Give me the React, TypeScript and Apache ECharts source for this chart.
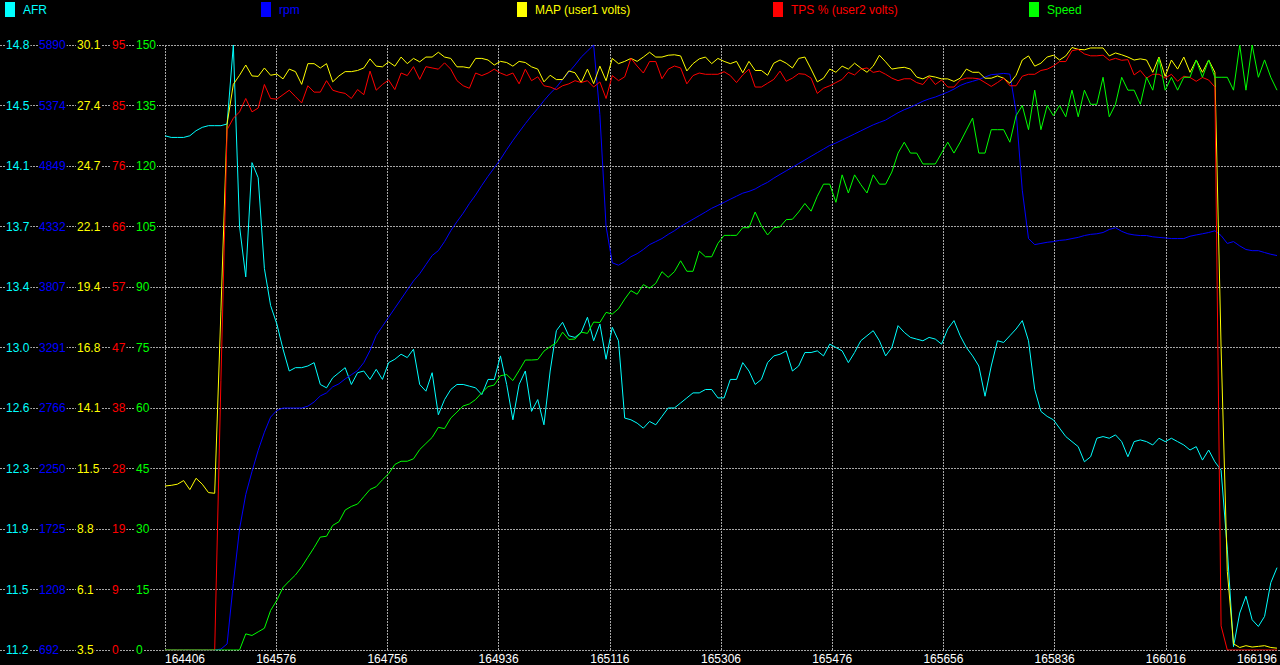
import React, { useEffect, useRef } from "react";
import * as echarts from "echarts";

// ---- tick labels ----
const xTickLabels = ["164406", "164576", "164756", "164936", "165116", "165306", "165476", "165656", "165836", "166016", "166196"];
const afrTicks = ["11.2", "11.5", "11.9", "12.3", "12.6", "13.0", "13.4", "13.7", "14.1", "14.5", "14.8"];
const rpmTicks = ["692", "1208", "1725", "2250", "2766", "3291", "3807", "4332", "4849", "5374", "5890"];
const mapTicks = ["3.5", "6.1", "8.8", "11.5", "14.1", "16.8", "19.4", "22.1", "24.7", "27.4", "30.1"];
const tpsTicks = ["0", "9", "19", "28", "38", "47", "57", "66", "76", "85", "95"];
const speedTicks = ["0", "15", "30", "45", "60", "75", "90", "105", "120", "135", "150"];

// ---- series values (one sample per log row) ----
const afr = [
  14.26, 14.25, 14.25, 14.25, 14.26, 14.29, 14.31, 14.32, 14.32, 14.32,
  14.33, 14.8, 13.72, 13.42, 14.1, 14.01, 13.47, 13.25, 13.14, 12.99,
  12.86, 12.88, 12.88, 12.89, 12.91, 12.78, 12.76, 12.82, 12.85, 12.88,
  12.78, 12.85, 12.86, 12.81, 12.87, 12.81, 12.91, 12.93, 12.96, 12.94,
  12.99, 12.78, 12.74, 12.85, 12.6, 12.69, 12.75, 12.78, 12.78, 12.77,
  12.76, 12.72, 12.81, 12.81, 12.95, 12.78, 12.57, 12.78, 12.86, 12.62,
  12.69, 12.54, 12.86, 13.1, 13.15, 13.07, 13.06, 13.09, 13.18, 13.04,
  13.14, 12.93, 13.12, 13.04, 12.58, 12.57, 12.55, 12.52, 12.56, 12.54,
  12.59, 12.64, 12.64, 12.67, 12.7, 12.73, 12.73, 12.75, 12.75, 12.7,
  12.7, 12.81, 12.81, 12.91, 12.86, 12.78, 12.81, 12.91, 12.95, 12.96,
  12.98, 12.86, 12.89, 12.97, 12.97, 12.98, 12.95, 13.02, 13.0, 12.98,
  12.91, 12.97, 13.04, 13.07, 13.1, 13.04, 12.95, 13.0, 13.13, 13.09,
  13.06, 13.05, 13.04, 13.06, 13.05, 13.02, 13.11, 13.16, 13.07, 13.0,
  12.95, 12.89, 12.71, 12.89, 13.04, 13.03, 13.07, 13.11, 13.16, 13.04,
  12.75, 12.62, 12.59, 12.57, 12.52, 12.47, 12.44, 12.41, 12.32, 12.35,
  12.46, 12.47, 12.46, 12.48, 12.44, 12.35, 12.44, 12.45, 12.44, 12.42,
  12.46, 12.44, 12.46, 12.44, 12.42, 12.39, 12.41, 12.33, 12.39, 12.32,
  12.27, 11.8, 11.22, 11.42, 11.52, 11.38, 11.34, 11.4, 11.6, 11.69,
];

const rpm = [
  692, 692, 692, 692, 692, 692, 692, 692, 692, 700,
  744, 1264, 1732, 2028, 2225, 2407, 2563, 2693, 2750, 2771,
  2771, 2771, 2771, 2787, 2823, 2875, 2901, 2953, 2979, 3021,
  3057, 3093, 3161, 3265, 3395, 3473, 3551, 3629, 3707, 3785,
  3863, 3925, 4003, 4081, 4123, 4201, 4294, 4372, 4445, 4528,
  4601, 4684, 4762, 4835, 4908, 4991, 5069, 5142, 5214, 5282,
  5344, 5412, 5474, 5526, 5594, 5656, 5718, 5786, 5838, 5890,
  5292, 4331, 4019, 3998, 4029, 4071, 4097, 4133, 4175, 4201,
  4227, 4263, 4294, 4331, 4362, 4393, 4424, 4455, 4487, 4512,
  4538, 4565, 4591, 4617, 4632, 4653, 4684, 4710, 4746, 4778,
  4809, 4840, 4871, 4902, 4934, 4965, 4996, 5027, 5048, 5074,
  5100, 5126, 5152, 5178, 5204, 5225, 5245, 5277, 5308, 5334,
  5355, 5381, 5407, 5427, 5443, 5464, 5485, 5511, 5542, 5563,
  5578, 5594, 5615, 5635, 5640, 5646, 5640, 5318, 4642, 4227,
  4175, 4185, 4195, 4201, 4211, 4216, 4227, 4237, 4253, 4263,
  4268, 4279, 4305, 4320, 4289, 4268, 4258, 4253, 4253, 4242,
  4237, 4232, 4227, 4227, 4227, 4247, 4258, 4268, 4279, 4294,
  4253, 4185, 4201, 4164, 4133, 4123, 4123, 4107, 4092, 4081,
];

const mapVolts = [
  10.71, 10.74, 10.79, 10.95, 10.55, 11.05, 10.79, 10.42, 10.39, 18.4,
  26.64, 28.37, 28.77, 29.22, 28.74, 28.72, 29.09, 28.77, 28.82, 28.61,
  29.04, 28.93, 28.37, 29.28, 29.28, 29.09, 29.28, 28.48, 28.74, 28.93,
  28.93, 28.98, 29.09, 29.49, 29.17, 29.14, 29.36, 29.17, 29.57, 29.28,
  29.51, 29.36, 29.57, 29.57, 29.78, 29.57, 29.51, 29.14, 29.14, 29.09,
  29.51, 29.51, 29.44, 29.22, 29.38, 29.33, 29.17, 29.38, 29.33, 29.14,
  29.04, 28.48, 28.77, 28.58, 28.58, 28.96, 28.88, 28.45, 29.04, 28.4,
  29.17, 28.53, 29.51, 29.28, 29.38, 29.51, 29.38, 29.57, 29.78, 29.57,
  29.57, 29.65, 29.67, 29.62, 28.96, 29.28, 29.49, 29.57, 29.28, 29.51,
  29.38, 29.28, 29.38, 28.88, 29.38, 28.98, 28.98, 28.77, 29.3, 29.44,
  29.3, 29.09, 29.51, 29.57, 29.04, 28.48, 28.64, 29.04, 28.9, 29.17,
  29.04, 29.3, 29.09, 28.9, 29.17, 29.65, 29.36, 29.04, 29.09, 29.12,
  29.04, 28.69, 28.61, 28.74, 28.69, 28.61, 28.61, 28.5, 28.64, 29.04,
  28.9, 28.9, 28.64, 28.64, 28.74, 28.64, 28.42, 28.77, 29.44, 29.62,
  29.17, 29.3, 29.57, 29.65, 29.44, 29.62, 29.99, 29.91, 29.89, 29.97,
  29.97, 29.97, 29.62, 29.75, 29.67, 29.57, 29.44, 29.49, 29.44, 28.9,
  29.57, 28.72, 29.44, 29.04, 29.57, 28.9, 29.44, 28.9, 29.44, 28.9,
  16.8, 6.96, 3.77, 3.61, 3.69, 3.63, 3.66, 3.69, 3.61, 3.58,
];

const tps = [
  0, 0, 0, 0, 0, 0, 0, 0, 0, 42.3,
  81.7, 83.5, 84.5, 86.6, 84.5, 85.1, 88.8, 86.6, 86.5, 87.2,
  87.9, 86.9, 85.9, 88.6, 87.6, 87.6, 89.4, 87.9, 87.6, 87.4,
  86.6, 88.0, 87.2, 90.9, 87.9, 88.8, 89.5, 88.0, 90.6, 90.2,
  91.6, 89.6, 91.6, 91.4, 91.2, 92.2, 91.2, 89.4, 88.6, 88.2,
  90.6, 90.2, 90.6, 91.2, 90.6, 90.2, 90.6, 88.9, 91.2, 89.4,
  90.0, 88.6, 88.4, 88.0, 88.6, 88.9, 89.4, 89.1, 89.4, 88.4,
  89.2, 86.6, 90.2, 89.4, 90.0, 92.9, 91.7, 90.6, 92.4, 92.4,
  89.7, 91.2, 91.7, 91.4, 88.9, 90.2, 90.6, 90.4, 90.4, 90.4,
  90.8, 90.2, 89.1, 90.3, 91.2, 88.4, 88.4, 89.0, 89.6, 90.9,
  89.3, 89.8, 90.5, 90.4, 89.8, 87.4, 88.2, 88.6, 89.1, 89.6,
  90.7, 90.3, 91.2, 91.4, 90.7, 90.9, 90.4, 89.8, 89.4, 89.7,
  89.7, 89.1, 88.8, 90.0, 88.8, 89.5, 88.4, 88.4, 89.5, 89.8,
  89.8, 89.7, 89.1, 88.5, 89.1, 89.8, 88.6, 88.6, 90.1, 90.4,
  90.4, 91.0, 91.2, 91.7, 92.4, 92.4, 94.1, 94.3, 93.6, 93.3,
  93.3, 93.4, 92.6, 92.9, 92.6, 92.7, 90.3, 91.0, 89.8, 90.4,
  90.4, 89.8, 90.4, 89.3, 90.1, 89.9, 89.3, 89.9, 89.5, 88.4,
  3.8, 0, 0, 0, 0, 0, 0, 0, 0, 0,
];

const speed = [
  0, 0, 0, 0, 0, 0, 0, 0, 0, 0,
  0, 0, 0, 4, 3.6, 4.5, 5.4, 9.8, 12.3, 15.5,
  17.1, 18.6, 20.6, 23, 25.4, 28, 28.2, 30.9, 31.8, 34.7,
  35.6, 36.2, 38, 39.8, 40.5, 42.2, 43.7, 46, 46.8, 46.8,
  47.4, 49.7, 51.2, 52.7, 55.2, 54.9, 57.5, 59, 60.5, 61,
  62.1, 63.8, 65.3, 65.7, 68, 68.3, 66.8, 69.3, 71.9, 71.9,
  72, 74.1, 75.2, 76.2, 78.8, 77, 77.1, 78.8, 78.5, 81.3,
  81.2, 83.7, 83.3, 84.6, 87, 89.1, 88.2, 90.6, 89.7, 90.9,
  93.8, 92.4, 93.8, 96.5, 93.9, 93.9, 98.9, 97.5, 97.5, 100.8,
  102.8, 102.8, 102.8, 104.7, 104.7, 108.6, 105.2, 102.9, 104.7, 104.9,
  106.7, 106.8, 108.6, 110.7, 108.8, 112.5, 115.5, 115.5, 111, 117.8,
  113.3, 117.8, 115.4, 113.3, 117.8, 115.5, 115.5, 118.5, 123.2, 125.9,
  123.2, 123.2, 120.5, 120.5, 120.5, 123.2, 125.9, 123.2, 125.9, 128.9,
  131.9, 123.2, 123.2, 129, 129, 129, 125.9, 132.5, 135, 129,
  138.8, 129, 135, 132.5, 135, 132.2, 138.8, 132.2, 138.8, 135.3,
  135.3, 142, 132.2, 135.3, 142, 138.8, 138.8, 135.3, 142, 138.8,
  146.7, 138.8, 142, 138.8, 142, 142, 146.3, 142, 146.3, 142,
  142, 142, 138.8, 150, 138.8, 150, 142, 146.3, 142, 138.8,
];

const FONT = "'Liberation Sans', Arial, sans-serif";
const GRID_COLOR = "#a6a6a6";

type AxisCfg = { name: string; min: number; max: number; ticks: string[]; color: string; margin: number; data: number[] };

const axes: AxisCfg[] = [
  { name: "AFR", min: 11.2, max: 14.8, ticks: afrTicks, color: "#00ffff", margin: 160, data: afr },
  { name: "rpm", min: 692, max: 5890, ticks: rpmTicks, color: "#0000ff", margin: 127, data: rpm },
  { name: "MAP (user1 volts)", min: 3.5, max: 30.1, ticks: mapTicks, color: "#ffff00", margin: 89, data: mapVolts },
  { name: "TPS % (user2 volts)", min: 0, max: 95, ticks: tpsTicks, color: "#ff0000", margin: 54, data: tps },
  { name: "Speed", min: 0, max: 150, ticks: speedTicks, color: "#00ff00", margin: 30, data: speed },
];

const legendLefts = [5, 261, 517, 773, 1029];

const X_MAX = afr.length - 1;
const X_STEP = X_MAX / 10;

function buildOption() {
  const yAxes: any[] = axes.map((a) => {
    const step = (a.max - a.min) / 10;
    const custom = a.ticks.map((_, k) => Math.min(a.max, Number((a.min + k * step).toFixed(6))));
    return {
      type: "value",
      gridIndex: 0,
      position: "left",
      min: a.min,
      max: a.max,
      z: 5,
      axisLine: { show: false },
      axisTick: { show: false },
      splitLine: { show: false },
      axisLabel: {
        customValues: custom,
        formatter: (v: number) => a.ticks[Math.round((v - a.min) / step)] ?? "",
        align: "left",
        margin: a.margin,
        color: a.color,
        fontSize: 12,
        fontFamily: FONT,
        backgroundColor: "#000",
        padding: [1, 1, 1, 1],
      },
    };
  });
  // background full-width grid for horizontal dashed lines
  yAxes.push({
    type: "value",
    gridIndex: 1,
    min: 0,
    max: 10,
    interval: 1,
    z: 0,
    axisLine: { show: false },
    axisTick: { show: false },
    axisLabel: { show: false },
    splitLine: { show: true, lineStyle: { color: GRID_COLOR, type: [2, 1], width: 1 } },
  });

  return {
    animation: false,
    backgroundColor: "#000",
    textStyle: { fontFamily: FONT },
    legend: axes.map((a, i) => ({
      data: [a.name],
      left: legendLefts[i],
      top: 2,
      padding: 0,
      icon: "rect",
      itemWidth: 10,
      itemHeight: 15,
      selectedMode: false,
      textStyle: { color: a.color, fontSize: 12, fontFamily: FONT, padding: [0, 0, 0, 3] },
    })),
    grid: [
      { left: 165, right: 1, top: 45, bottom: 15 },
      { left: 0, right: 0, top: 45, bottom: 15 },
    ],
    xAxis: [
      {
        type: "value",
        gridIndex: 0,
        min: 0,
        max: X_MAX,
        interval: X_STEP,
        axisLine: { show: false },
        axisTick: { show: false },
        splitLine: { show: true, showMaxLine: false, lineStyle: { color: GRID_COLOR, type: [2, 1], width: 1 } },
        axisLabel: {
          color: "#ffffff",
          fontSize: 12,
          fontFamily: FONT,
          margin: 3,
          alignMinLabel: "left",
          alignMaxLabel: "right",
          formatter: (v: number) => xTickLabels[Math.round(v / X_STEP)] ?? "",
        },
      },
      { type: "value", gridIndex: 1, min: 0, max: 1, show: false },
    ],
    yAxis: yAxes,
    series: axes.map((a, i) => ({
      name: a.name,
      type: "line",
      xAxisIndex: 0,
      yAxisIndex: i,
      showSymbol: false,
      symbol: "none",
      color: a.color,
      lineStyle: { color: a.color, width: 1 },
      data: a.data.map((v, k) => [k, v]),
    })),
  };
}

export default function App() {
  const ref = useRef<HTMLDivElement>(null);
  useEffect(() => {
    if (!ref.current) return;
    const chart = echarts.init(ref.current, null, { renderer: "svg" });
    chart.setOption(buildOption() as any);
    return () => chart.dispose();
  }, []);
  return (
    <div
      ref={ref}
      style={{ position: "fixed", left: 0, top: 0, width: 1280, height: 665, background: "#000" }}
    />
  );
}
